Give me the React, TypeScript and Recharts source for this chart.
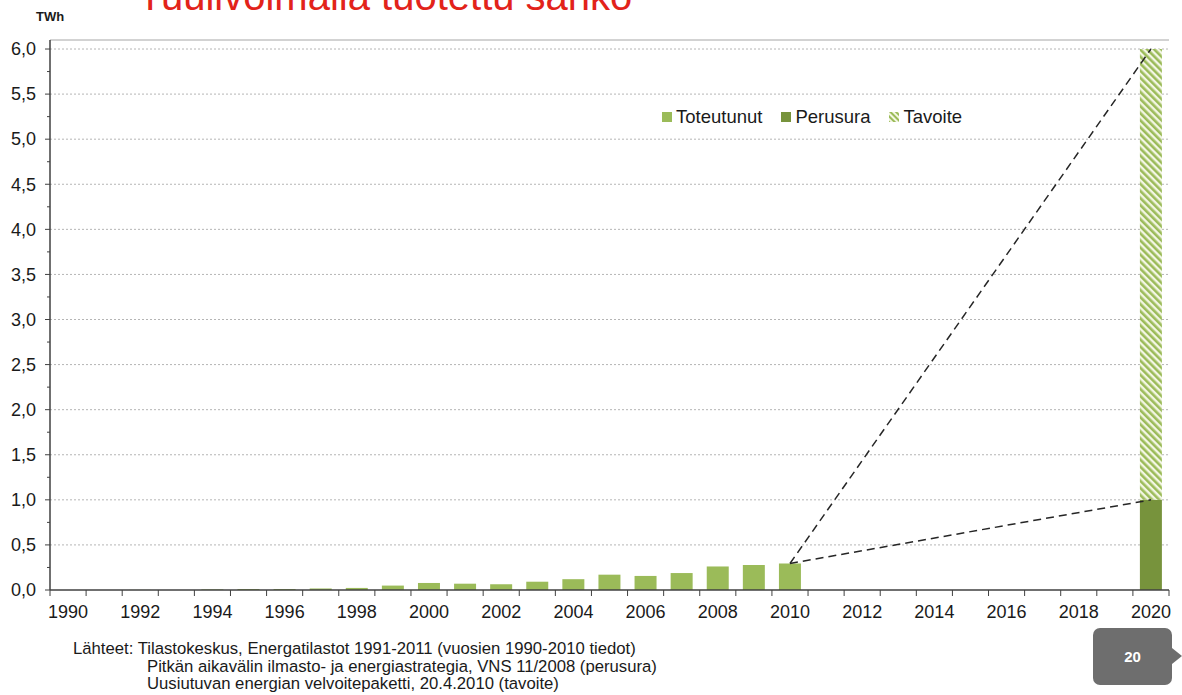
import React from "react";
import {
  ComposedChart,
  Bar,
  Line,
  XAxis,
  YAxis,
  CartesianGrid,
  ReferenceLine,
  Legend,
} from "recharts";

const years = [
  1990, 1991, 1992, 1993, 1994, 1995, 1996, 1997, 1998, 1999, 2000, 2001,
  2002, 2003, 2004, 2005, 2006, 2007, 2008, 2009, 2010, 2011, 2012, 2013,
  2014, 2015, 2016, 2017, 2018, 2019, 2020,
];

// toteutunut tuotanto, TWh (1990-2010)
const toteutunut = [
  0.0, 0.0, 0.001, 0.0, 0.007, 0.011, 0.011, 0.017, 0.023, 0.049, 0.078, 0.07,
  0.063, 0.092, 0.12, 0.17, 0.156, 0.188, 0.261, 0.277, 0.294,
];

const perusura2020 = 1.0;
const tavoite2020 = 5.0; // pinottuna perusuran päälle -> 6,0

// katkoviivat 2010 -> 2020
const viivaAlku = 0.294;
const viivaTavoite = 6.0;
const viivaPerusura = 1.0;

const yTicks = [
  0, 0.25, 0.5, 0.75, 1, 1.25, 1.5, 1.75, 2, 2.25, 2.5, 2.75, 3, 3.25, 3.5,
  3.75, 4, 4.25, 4.5, 4.75, 5, 5.25, 5.5, 5.75, 6,
];
const gridValues = [0.5, 1, 1.5, 2, 2.5, 3, 3.5, 4, 4.5, 5, 5.5, 6];

const lahteet = [
  "Lähteet: Tilastokeskus, Energatilastot 1991-2011 (vuosien 1990-2010 tiedot)",
  "Pitkän aikavälin ilmasto- ja energiastrategia, VNS 11/2008 (perusura)",
  "Uusiutuvan energian velvoitepaketti, 20.4.2010 (tavoite)",
];

const LIGHT = "#9bbb59";
const DARK = "#77933c";
const FONT = "'Liberation Sans', Arial, sans-serif";

const data = years.map((year, i) => ({
  year,
  toteutunut: i < toteutunut.length ? toteutunut[i] : null,
  perusura: year === 2020 ? perusura2020 : null,
  tavoite: year === 2020 ? tavoite2020 : null,
  lineTop: year === 2010 ? viivaAlku : year === 2020 ? viivaTavoite : null,
  lineBase: year === 2010 ? viivaAlku : year === 2020 ? viivaPerusura : null,
}));

const HALF_BAND = 1119 / 31 / 2;

function YTick(props: any) {
  const { x, y, payload } = props;
  const v = payload.value as number;
  const major = Math.abs(v * 2 - Math.round(v * 2)) < 1e-6;
  return (
    <g>
      <line x1={x - (major ? 5 : 3)} x2={x} y1={y} y2={y} stroke="#404040" />
      {major && (
        <text
          x={x - 14}
          y={y}
          dy="0.35em"
          textAnchor="end"
          fontSize={18}
          fontFamily={FONT}
          fill="#1a1a1a"
        >
          {v.toFixed(1).replace(".", ",")}
        </text>
      )}
    </g>
  );
}

function XTick(props: any) {
  const { x, y, payload, index } = props;
  const year = payload.value as number;
  return (
    <g>
      <line
        x1={x - HALF_BAND}
        x2={x - HALF_BAND}
        y1={y}
        y2={y + 6}
        stroke="#404040"
      />
      {index === years.length - 1 && (
        <line
          x1={x + HALF_BAND}
          x2={x + HALF_BAND}
          y1={y}
          y2={y + 6}
          stroke="#404040"
        />
      )}
      {year % 2 === 0 && (
        <text
          x={x}
          y={y + 28}
          textAnchor="middle"
          fontSize={18}
          fontFamily={FONT}
          fill="#1a1a1a"
        >
          {year}
        </text>
      )}
    </g>
  );
}

function LegendBox() {
  const item = (icon: React.ReactNode, label: string) => (
    <span style={{ display: "inline-flex", alignItems: "center", marginRight: 19 }}>
      {icon}
      <span style={{ marginLeft: 4 }}>{label}</span>
    </span>
  );
  return (
    <div
      style={{
        fontFamily: FONT,
        fontSize: 18.5,
        color: "#1a1a1a",
        whiteSpace: "nowrap",
        display: "flex",
        alignItems: "center",
      }}
    >
      {item(<span style={{ width: 10, height: 10, background: LIGHT, display: "inline-block" }} />, "Toteutunut")}
      {item(<span style={{ width: 10, height: 10, background: DARK, display: "inline-block" }} />, "Perusura")}
      {item(
        <svg width={10} height={10}>
          <rect width={10} height={10} fill="url(#hatchLegend)" />
          <defs>
            <pattern
              id="hatchLegend"
              width={4}
              height={4}
              patternUnits="userSpaceOnUse"
              patternTransform="rotate(-45)"
            >
              <rect width={4} height={4} fill="#f3f6e4" />
              <rect width={2} height={4} fill={LIGHT} />
            </pattern>
          </defs>
        </svg>,
        "Tavoite"
      )}
    </div>
  );
}

export default function App() {
  return (
    <div
      style={{
        position: "absolute",
        left: 0,
        top: 0,
        width: 1182,
        height: 695,
        overflow: "hidden",
        background: "#fff",
        fontFamily: FONT,
      }}
    >
      <div
        style={{
          position: "absolute",
          left: 138,
          top: -24,
          fontSize: 40,
          lineHeight: "40px",
          color: "#e2231a",
          whiteSpace: "nowrap",
        }}
      >
        Tuulivoimalla tuotettu sähkö
      </div>
      <div
        style={{
          position: "absolute",
          left: 36,
          top: 9,
          fontSize: 13,
          fontWeight: "bold",
          color: "#1a1a1a",
        }}
      >
        TWh
      </div>

      <ComposedChart
        width={1182}
        height={695}
        data={data}
        margin={{ top: 40, right: 13, left: 0, bottom: 75 }}
        barSize={22}
      >
        <defs>
          <pattern
            id="hatch"
            width={5}
            height={5}
            patternUnits="userSpaceOnUse"
            patternTransform="rotate(-45)"
          >
            <rect width={5} height={5} fill="#f3f6e4" />
            <rect width={2.6} height={5} fill={LIGHT} />
          </pattern>
        </defs>
        <CartesianGrid
          vertical={false}
          horizontalValues={gridValues}
          stroke="#b5b5b5"
          strokeDasharray="2 2"
        />
        <XAxis
          dataKey="year"
          type="category"
          interval={0}
          tickSize={0}
          tickMargin={0}
          tickLine={false}
          tick={<XTick />}
          axisLine={{ stroke: "#404040", strokeWidth: 1.5 }}
          height={30}
        />
        <YAxis
          domain={[0, 6.1]}
          ticks={yTicks}
          interval={0}
          width={50}
          tickSize={0}
          tickMargin={0}
          tickLine={false}
          tick={<YTick />}
          axisLine={{ stroke: "#404040", strokeWidth: 1.5 }}
          allowDataOverflow
        />
        <YAxis
          yAxisId="r"
          orientation="right"
          domain={[0, 6.1]}
          width={0}
          tick={false}
          tickLine={false}
          axisLine={{ stroke: "#a6a6a6" }}
        />
        <ReferenceLine y={6.1} stroke="#a6a6a6" />
        <Legend
          layout="horizontal"
          verticalAlign="middle"
          align="center"
          content={() => <LegendBox />}
          wrapperStyle={{ left: 662, top: 106, width: 330 }}
        />
        <Bar
          dataKey="toteutunut"
          name="Toteutunut"
          stackId="a"
          fill={LIGHT}
          isAnimationActive={false}
        />
        <Bar
          dataKey="perusura"
          name="Perusura"
          stackId="a"
          fill={DARK}
          isAnimationActive={false}
        />
        <Bar
          dataKey="tavoite"
          name="Tavoite"
          stackId="a"
          fill="url(#hatch)"
          isAnimationActive={false}
        />
        <Line
          dataKey="lineTop"
          stroke="#262626"
          strokeWidth={1.5}
          strokeDasharray="8 5"
          dot={false}
          activeDot={false}
          connectNulls
          legendType="none"
          isAnimationActive={false}
        />
        <Line
          dataKey="lineBase"
          stroke="#262626"
          strokeWidth={1.5}
          strokeDasharray="8 5"
          dot={false}
          activeDot={false}
          connectNulls
          legendType="none"
          isAnimationActive={false}
        />
      </ComposedChart>

      <div
        style={{
          position: "absolute",
          left: 73,
          top: 640,
          fontSize: 16.7,
          lineHeight: "17.5px",
          color: "#1a1a1a",
          whiteSpace: "nowrap",
        }}
      >
        <div>{lahteet[0]}</div>
        <div style={{ paddingLeft: 74 }}>{lahteet[1]}</div>
        <div style={{ paddingLeft: 74 }}>{lahteet[2]}</div>
      </div>

      <div
        style={{
          position: "absolute",
          left: 1093,
          top: 628,
          width: 79,
          height: 57,
          borderRadius: 7,
          background: "#6e6e6e",
          color: "#fff",
          fontWeight: "bold",
          fontSize: 15,
          display: "flex",
          alignItems: "center",
          justifyContent: "center",
        }}
      >
        20
      </div>
      <div
        style={{
          position: "absolute",
          left: 1172,
          top: 648,
          width: 0,
          height: 0,
          borderTop: "8px solid transparent",
          borderBottom: "8px solid transparent",
          borderLeft: "10px solid #6e6e6e",
        }}
      />
    </div>
  );
}
